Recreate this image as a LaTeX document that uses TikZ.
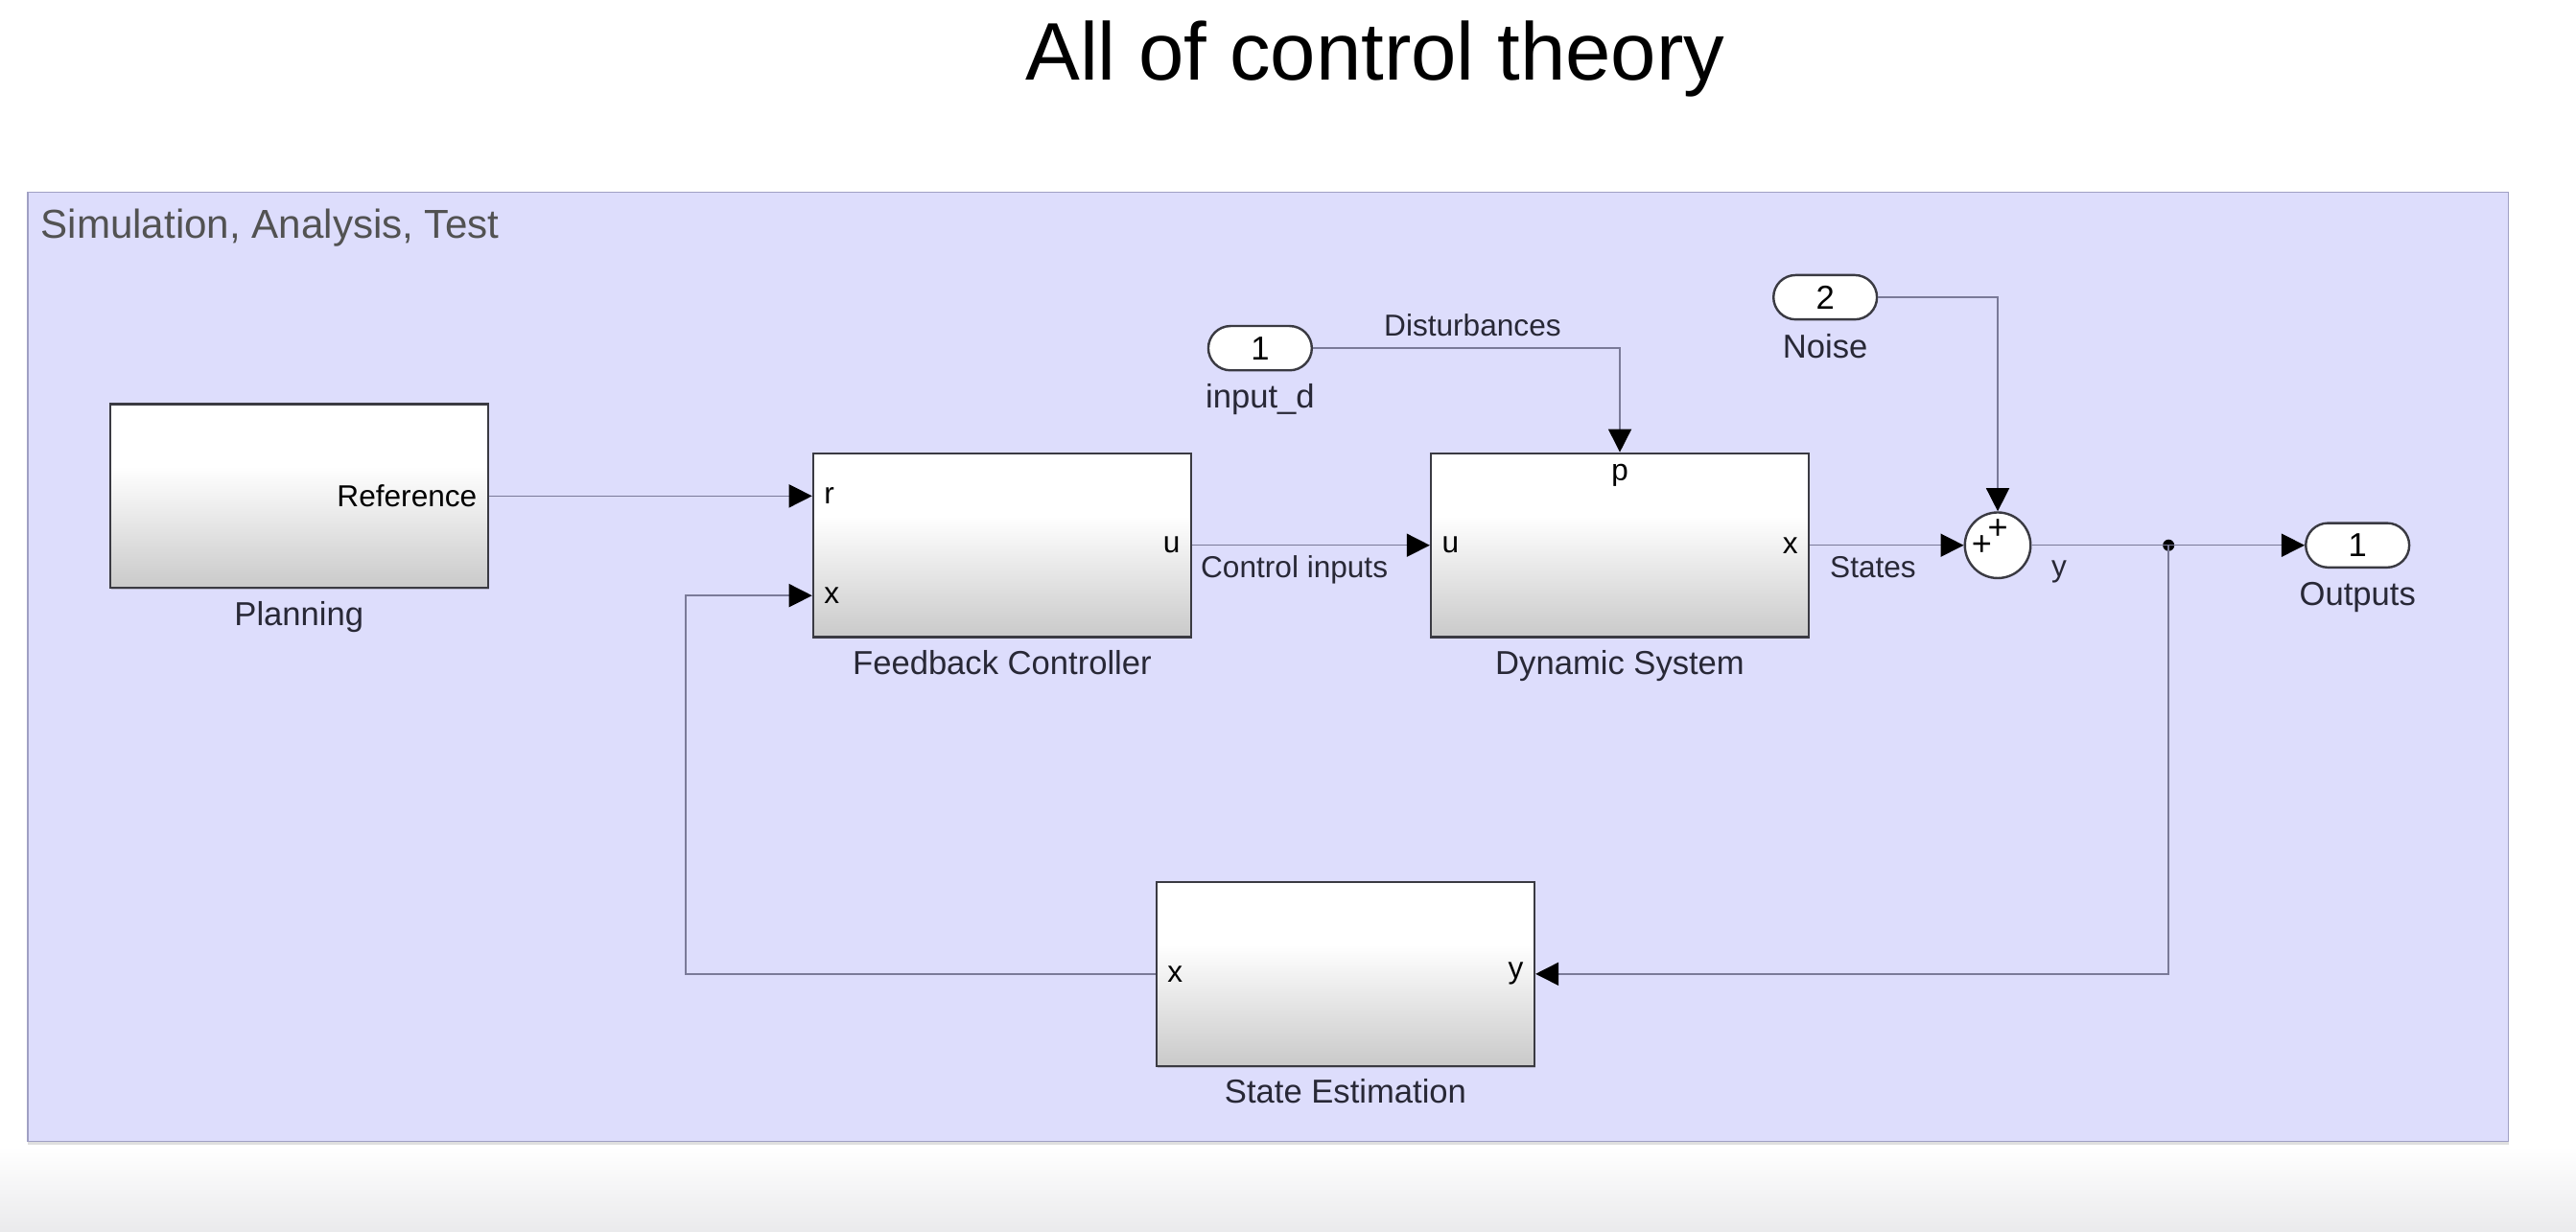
\documentclass[tikz,border=0pt]{standalone}
\usepackage{fontspec}
\setmainfont{Liberation Sans}
\usepackage{tikz}
\usetikzlibrary{arrows.meta, positioning, calc, shadows}
\definecolor{canvasbg}{RGB}{221, 221, 252}
\definecolor{canvasedge}{RGB}{160, 160, 196}
\definecolor{wire}{RGB}{122, 122, 152}
\definecolor{blockedge}{RGB}{58, 58, 66}
\definecolor{labeltext}{RGB}{40, 40, 54}
\definecolor{floorgray}{RGB}{234, 234, 236}
\pgfdeclareverticalshading{blockfade}{100bp}{color(0bp)=(black!21); color(25bp)=(black!21); color(58bp)=(white); color(100bp)=(white)}
\tikzset{
    font=\fontsize{10.5}{12}\selectfont,
    canvas/.style={rectangle, draw=canvasedge, fill=canvasbg, line width=0.6pt, minimum width=30.2cm, minimum height=11.56cm, drop shadow={shadow xshift=0pt, shadow yshift=-1.2pt, opacity=0.25}},
    block/.style={rectangle, draw=blockedge, line width=0.8pt, shade, shading=blockfade, minimum width=4.6cm, minimum height=2.24cm, drop shadow={shadow xshift=0.4pt, shadow yshift=-0.6pt, opacity=0.35}},
    port/.style={rectangle, rounded corners=0.27cm, draw=blockedge, fill=white, line width=0.8pt, minimum width=1.26cm, minimum height=0.54cm, font=\fontsize{11.5}{13}\selectfont, inner sep=0pt},
    sumblock/.style={circle, draw=blockedge, fill=white, line width=0.8pt, minimum size=0.8cm, inner sep=0pt},
    junction/.style={circle, fill=black, minimum size=4pt, inner sep=0pt},
    blockname/.style={font=\fontsize{11.5}{13}\selectfont, color=labeltext, inner sep=1pt},
    portname/.style={font=\fontsize{10.5}{12}\selectfont, inner sep=1pt},
    signame/.style={font=\fontsize{10.5}{12}\selectfont, color=labeltext, inner sep=1pt},
    sign/.style={font=\fontsize{12}{12}\selectfont, inner sep=0pt},
    wireline/.style={draw=wire, line width=0.5pt},
    arrow/.style={wireline, -{Triangle[length=8pt, width=8pt, color=black]}}
}

\begin{document}
\begin{tikzpicture}[x=0.02cm, y=-0.02cm]

    \useasboundingbox (0,0) rectangle (1568,750);
    \shade [top color=white, bottom color=floorgray] (0,698) rectangle (1568,750);

    \node (title) [font=\fontsize{28.3}{34}\selectfont] at (837,36) {All of control theory};

    \node (canvas) [canvas] at (772,406) {};
    \node (area) [anchor=north west, font=\fontsize{14}{17}\selectfont, color=black!68, inner sep=0pt] at ([shift={(4.5pt,-6pt)}]canvas.north west) {Simulation, Analysis, Test};

    % blocks
    \node (plan)  [block] at (182,302) {};
    \node (fbc)   [block] at (610,332) {};
    \node (dyn)   [block] at (986,332) {};
    \node (est)   [block] at (819,593) {};
    \node (sum)   [sumblock] at (1216,332) {};
    \node (ind)   [port] at (767,212) {1};
    \node (noise) [port] at (1111,181) {2};
    \node (outp)  [port] at (1435,332) {1};
    \node (split) [junction] at (1320,332) {};

    \node [blockname, below=3pt of plan] {Planning};
    \node [blockname, below=3pt of fbc] {Feedback Controller};
    \node [blockname, below=3pt of dyn] {Dynamic System};
    \node [blockname, below=3pt of est] {State Estimation};
    \node [blockname, below=3pt of ind] {input\_d};
    \node [blockname, below=3.5pt of noise] {Noise};
    \node [blockname, below=3.5pt of outp] {Outputs};

    % ports
    \coordinate (fbc-r) at (fbc.west |- plan.east);
    \coordinate (fbc-x) at ($(fbc.north west)!0.77!(fbc.south west)$);
    \node [portname, anchor=east] at ([xshift=-3pt]plan.east) {Reference};
    \node [portname, anchor=west] at ([xshift=3pt]fbc-r) {r};
    \node [portname, anchor=west] at ([xshift=3pt]fbc-x) {x};
    \node [portname, anchor=east] at ([xshift=-3pt]fbc.east) {u};
    \node [portname, anchor=west] at ([xshift=3pt]dyn.west) {u};
    \node [portname, anchor=east] at ([xshift=-3pt]dyn.east) {x};
    \node [portname, anchor=south, rotate=180] at ([yshift=-3pt]dyn.north) {d};
    \node [portname, anchor=west] at ([xshift=3pt]est.west) {x};
    \node [portname, anchor=east] at ([xshift=-3pt]est.east) {y};
    \node [sign] at ([yshift=5.5pt]sum.center) {+};
    \node [sign] at ([xshift=-5.5pt]sum.center) {+};

    % signals
    \draw [arrow] (plan.east) -- (fbc-r);
    \draw [arrow] (fbc.east) -- (dyn.west) node [signame, below=2.5pt, pos=0.43] {Control inputs};
    \draw [arrow] (ind.east) -| (dyn.north) node [signame, above=3pt, pos=0.26] {Disturbances};
    \draw [arrow] (dyn.east) -- (sum.west) node [signame, below=2.5pt, pos=0.41] {States};
    \draw [arrow] (noise.east) -| (sum.north);
    \draw [arrow] (sum.east) -- (outp.west) node [signame, below=4pt, pos=0.1] {y};
    \draw [arrow] (split.center) |- (est.east);
    \draw [arrow] (est.west) -| ($(fbc-x)+(-77,0)$) -- (fbc-x);

\end{tikzpicture}
\end{document}
